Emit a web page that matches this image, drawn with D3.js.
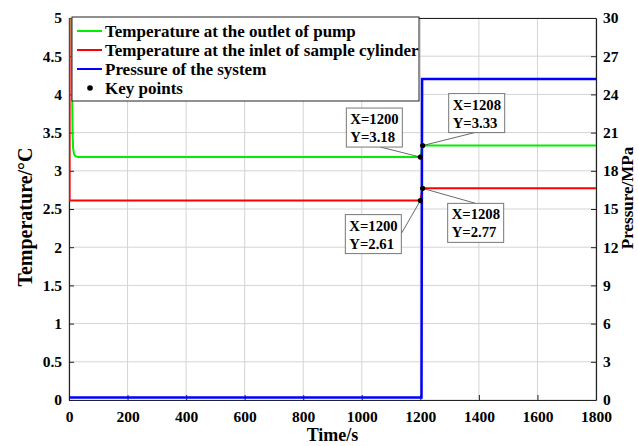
<!DOCTYPE html>
<html>
<head>
<meta charset="utf-8">
<script src="https://cdn.jsdelivr.net/npm/d3@7"></script>
<style>
  body { margin: 0; background: #fff; }
  text { font-family: "Liberation Serif", "Times New Roman", serif; font-weight: bold; fill: #000; }
</style>
</head>
<body>
<svg id="chart" width="638" height="446"></svg>
<script>
// data
var timeTicks = [0, 200, 400, 600, 800, 1000, 1200, 1400, 1600, 1800];
var tempTicks = [0, 0.5, 1, 1.5, 2, 2.5, 3, 3.5, 4, 4.5, 5];
var pressTicks = [0, 3, 6, 9, 12, 15, 18, 21, 24, 27, 30];

var outletTime = [9, 10, 11, 12, 14, 17, 22, 30, 1200, 1208, 1800];
var outletTemp = [5.3, 4.6, 3.9, 3.5, 3.3, 3.22, 3.19, 3.18, 3.18, 3.33, 3.33];

var inletTime = [2, 2, 1200, 1208, 1800];
var inletTemp = [5.3, 2.61, 2.61, 2.77, 2.77];

var pressTime = [0, 1204, 1206, 1800];
var pressVal = [0.2, 0.2, 25.2, 25.2];

var keyTime = [1200, 1208, 1200, 1208];
var keyTemp = [3.18, 3.33, 2.61, 2.77];
// label box offset from its point (px)
var keyBoxDx = [-74, 26, -75, 25];
var keyBoxDy = [-49, -52, 14, 15];

var legendNames = ["Temperature at the outlet of pump", "Temperature at the inlet of sample cylinder", "Pressure of the system", "Key points"];
var legendColors = ["#00ee00", "#ff0000", "#0000ff", "#000"];

var svg = d3.select("#chart");
var m = {left: 69, right: 596, top: 18, bottom: 400};

var x = d3.scaleLinear().domain([0, 1800]).range([m.left, m.right]);
var yT = d3.scaleLinear().domain([0, 5]).range([m.bottom, m.top]);
var yP = d3.scaleLinear().domain([0, 30]).range([m.bottom, m.top]);

svg.append("defs").append("clipPath").attr("id", "clip")
  .append("rect").attr("x", m.left).attr("y", m.top)
  .attr("width", m.right - m.left).attr("height", m.bottom - m.top);

// grid
var grid = svg.append("g").attr("stroke", "#d4d4d4").attr("stroke-width", 1);
timeTicks.forEach(function(t) {
  grid.append("line").attr("x1", x(t)).attr("x2", x(t)).attr("y1", m.top).attr("y2", m.bottom);
});
tempTicks.forEach(function(t) {
  grid.append("line").attr("x1", m.left).attr("x2", m.right).attr("y1", yT(t)).attr("y2", yT(t));
});

// axes
var fs = "15.5px";
var gx = svg.append("g").attr("transform", "translate(0," + m.bottom + ")")
  .call(d3.axisBottom(x).tickValues(timeTicks).tickFormat(d3.format("d")).tickSizeInner(-5).tickSizeOuter(0).tickPadding(11));
var gl = svg.append("g").attr("transform", "translate(" + m.left + ",0)")
  .call(d3.axisLeft(yT).tickValues(tempTicks).tickFormat(d3.format("")).tickSizeInner(-5).tickSizeOuter(0).tickPadding(7));
var gr = svg.append("g").attr("transform", "translate(" + m.right + ",0)")
  .call(d3.axisRight(yP).tickValues(pressTicks).tickSizeInner(-5).tickSizeOuter(0).tickPadding(7));
var gt = svg.append("g").attr("transform", "translate(0," + m.top + ")")
  .call(d3.axisTop(x).tickValues([]).tickSizeOuter(0));
[gx, gl, gr, gt].forEach(function(g) {
  g.selectAll("text").style("font-family", "Liberation Serif").style("font-weight", "bold").style("font-size", fs);
  g.selectAll("path").attr("stroke", "#222").attr("stroke-width", 1.2);
  g.selectAll("line").attr("stroke", "#222");
});

// series
var plot = svg.append("g").attr("clip-path", "url(#clip)");
function drawLine(ts, vs, yscale, color, w) {
  var pts = ts.map(function(t, i) { return [t, vs[i]]; });
  plot.append("path").datum(pts)
    .attr("fill", "none").attr("stroke", color).attr("stroke-width", w)
    .attr("d", d3.line().x(function(d) { return x(d[0]); }).y(function(d) { return yscale(d[1]); }));
}
drawLine(inletTime, inletTemp, yT, legendColors[1], 2);
drawLine(outletTime, outletTemp, yT, legendColors[0], 2);
drawLine(pressTime, pressVal, yP, legendColors[2], 2.5);

// key points with data tips
var tips = svg.append("g");
keyTime.forEach(function(t, i) {
  var px = x(t), py = yT(keyTemp[i]);
  var bx = px + keyBoxDx[i], by = py + keyBoxDy[i], bw = 56, bh = 39;
  var ax = i % 2 ? bx + 26 : bx + 34, ay = by + bh;
  if (i == 2) { ax = bx + bw; ay = by + 19; }
  if (i == 3) { ax = bx + 28; ay = by; }
  tips.append("line").attr("x1", ax).attr("y1", ay).attr("x2", px).attr("y2", py)
    .attr("stroke", "#444").attr("stroke-width", 0.8);
  tips.append("rect").attr("x", bx).attr("y", by).attr("width", bw).attr("height", bh)
    .attr("fill", "#fff").attr("stroke", "#777").attr("stroke-width", 1);
  tips.append("text").attr("x", bx + 4).attr("y", by + 16).style("font-size", "14.7px").text("X=" + t);
  tips.append("text").attr("x", bx + 4).attr("y", by + 34).style("font-size", "14.7px").text("Y=" + keyTemp[i].toFixed(2));
  tips.append("circle").attr("cx", px).attr("cy", py).attr("r", 2.6).attr("fill", "#000");
});

// legend
var lg = svg.append("g");
lg.append("rect").attr("x", 72).attr("y", 17).attr("width", 347).attr("height", 84)
  .attr("fill", "#fff").attr("stroke", "#222").attr("stroke-width", 1);
legendNames.forEach(function(name, i) {
  var ly = 31 + i * 19;
  if (i < 3) {
    lg.append("line").attr("x1", 77).attr("x2", 102).attr("y1", ly).attr("y2", ly)
      .attr("stroke", legendColors[i]).attr("stroke-width", 2);
  } else {
    lg.append("circle").attr("cx", 90).attr("cy", ly).attr("r", 2.8).attr("fill", "#000");
  }
  lg.append("text").attr("x", 105).attr("y", ly + 5.5).style("font-size", "17px").text(name);
});

// axis titles
svg.append("text").attr("x", (m.left + m.right) / 2).attr("y", 441)
  .attr("text-anchor", "middle").style("font-size", "18px").text("Time/s");
svg.append("text").attr("transform", "translate(32,217) rotate(-90)")
  .attr("text-anchor", "middle").style("font-size", "20px").text("Temperature/\u00B0C");
svg.append("text").attr("transform", "translate(633,198) rotate(-90)")
  .attr("text-anchor", "middle").style("font-size", "17px").text("Pressure/MPa");
</script>
</body>
</html>
